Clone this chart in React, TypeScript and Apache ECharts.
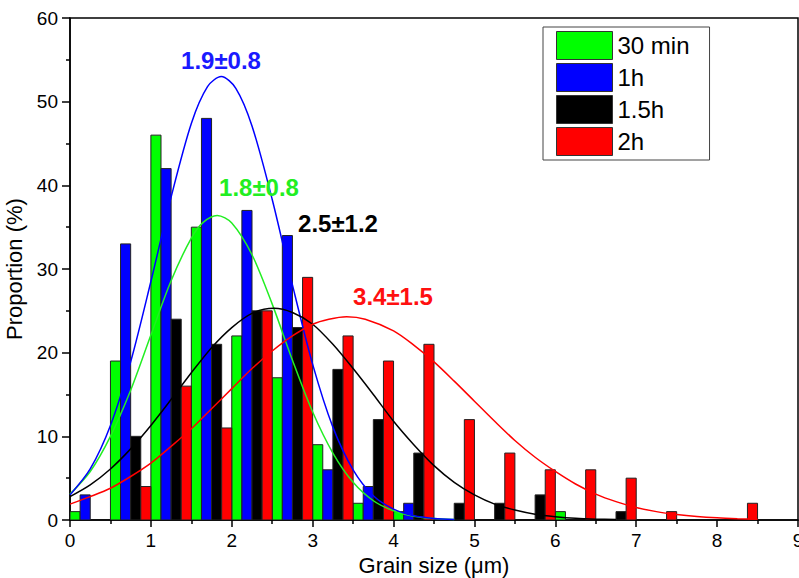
import React, { useEffect, useRef } from "react";
import * as echarts from "echarts";

// Bin starts (µm), bins are 0.5 µm wide, 4 bars per bin
const binStarts = [0, 0.5, 1, 1.5, 2, 2.5, 3, 3.5, 4, 4.5, 5, 5.5, 6, 6.5, 7, 7.5, 8, 8.5];
const seriesNames = ["30 min", "1h", "1.5h", "2h"];
const seriesColors = ["#00ff00", "#0000ff", "#000000", "#ff0000"];
const green30 = [1, 19, 46, 35, 22, 17, 9, 2, 1, 0, 0, 0, 1, 0, 0, 0, 0, 0];
const blue1h = [3, 33, 42, 48, 37, 34, 6, 4, 2, 0, 0, 0, 0, 0, 0, 0, 0, 0];
const black15h = [0, 10, 24, 21, 25, 23, 18, 12, 8, 2, 2, 3, 0, 1, 0, 0, 0, 0];
const red2h = [0, 4, 16, 11, 25, 29, 22, 19, 21, 12, 8, 6, 6, 5, 1, 0, 2, 0];

// Fitted curves
const greenFitX = [0, 0.25, 0.5, 0.75, 1, 1.25, 1.5, 1.65, 1.82, 2, 2.25, 2.5, 2.75, 3, 3.25, 3.5, 3.75, 4, 4.25, 4.5, 4.75];
const greenFit = [3.1, 5.8, 10.0, 15.5, 22.1, 28.6, 33.7, 35.6, 36.4, 35.5, 31.7, 25.8, 19.1, 12.9, 8.0, 4.5, 2.3, 1.1, 0.45, 0.17, 0.06];
const blueFitX = [0, 0.25, 0.5, 0.75, 1, 1.25, 1.5, 1.7, 1.87, 2.05, 2.25, 2.5, 2.75, 3, 3.25, 3.5, 3.75, 4, 4.25, 4.5, 4.75];
const blueFit = [3.0, 6.1, 11.3, 18.9, 28.5, 38.6, 47.4, 51.8, 53.0, 51.6, 47.1, 38.3, 28.1, 18.6, 11.1, 6.0, 2.9, 1.3, 0.5, 0.18, 0.06];
const blackFitX = [0, 0.25, 0.5, 0.75, 1, 1.25, 1.5, 1.75, 2, 2.25, 2.52, 2.75, 3, 3.25, 3.5, 3.75, 4, 4.25, 4.5, 4.75, 5, 5.25, 5.5, 5.75, 6, 6.25, 6.5, 6.75];
const blackFit = [2.8, 4.2, 6.1, 8.5, 11.3, 14.4, 17.6, 20.6, 23.0, 24.7, 25.3, 24.8, 23.4, 21.0, 18.1, 15.0, 11.8, 9.0, 6.5, 4.5, 3.0, 1.9, 1.2, 0.7, 0.4, 0.2, 0.1, 0.05];
const redFitX = [0, 0.25, 0.5, 0.75, 1, 1.25, 1.5, 1.75, 2, 2.25, 2.5, 2.75, 3, 3.2, 3.42, 3.65, 4, 4.25, 4.5, 4.75, 5, 5.25, 5.5, 5.75, 6, 6.25, 6.5, 6.75, 7, 7.25, 7.5, 7.75, 8, 8.25, 8.5];
const redFit = [1.9, 2.8, 3.8, 5.2, 6.8, 8.8, 10.9, 13.3, 15.7, 18.1, 20.2, 22.0, 23.4, 24.0, 24.3, 24.0, 22.6, 20.9, 18.9, 16.6, 14.2, 11.8, 9.5, 7.5, 5.8, 4.3, 3.1, 2.2, 1.5, 1.0, 0.66, 0.42, 0.26, 0.16, 0.09];

const fitLabels = ["1.8±0.8", "1.9±0.8", "2.5±1.2", "3.4±1.5"];
const labelColors = ["#22ee22", "#1a1aff", "#000000", "#ff1010"];

const FONT = "'Liberation Sans', Arial, sans-serif";

export default function App() {
  const ref = useRef<HTMLDivElement>(null);
  useEffect(() => {
    if (!ref.current) return;
    const chart = echarts.init(ref.current, null, { renderer: "svg" });
    const barValues = [green30, blue1h, black15h, red2h];
    const fitXs = [greenFitX, blueFitX, blackFitX, redFitX];
    const fits = [greenFit, blueFit, blackFit, redFit];
    const subW = 0.5 / 4;

    const barSeries = barValues.map((vals, i) => ({
      type: "custom",
      name: seriesNames[i],
      itemStyle: { color: seriesColors[i] },
      encode: { x: 0, y: 1 },
      clip: true,
      z: 2,
      data: vals
        .map((v, k) => [binStarts[k] + i * subW, v])
        .filter((d) => d[1] > 0),
      renderItem: (params: any, api: any) => {
        const x0 = api.value(0);
        const y = api.value(1);
        const p0 = api.coord([x0, y]);
        const p1 = api.coord([x0 + subW, 0]);
        return {
          type: "rect",
          shape: { x: p0[0], y: p0[1], width: p1[0] - p0[0], height: p1[1] - p0[1] },
          style: { fill: seriesColors[i], stroke: "#222", lineWidth: 1 },
        };
      },
    }));

    const lineSeries = fits.map((ys, i) => ({
      type: "line",
      name: seriesNames[i] + " fit",
      data: ys.map((y, k) => [fitXs[i][k], y]),
      smooth: 0.3,
      showSymbol: false,
      symbol: "none",
      z: 5,
      lineStyle: { color: i === 0 ? "#22ee22" : seriesColors[i], width: 1.5 },
    }));

    const labelPos = [
      [259, 187],
      [221, 60],
      [338, 223],
      [393, 296],
    ];

    chart.setOption({
      animation: false,
      grid: {
        left: 70,
        right: 1,
        top: 18,
        bottom: 58,
        show: true,
        borderColor: "#000",
        borderWidth: 1.5,
        outerBoundsMode: "none",
        containLabel: false,
      },
      legend: {
        data: seriesNames,
        orient: "vertical",
        left: 543,
        top: 27,
        padding: [4, 20, 4, 13],
        itemGap: 3,
        itemWidth: 56,
        itemHeight: 28,
        icon: "rect",
        borderColor: "#444",
        borderWidth: 1,
        itemStyle: { borderColor: "#333", borderWidth: 1 },
        textStyle: { fontSize: 24, color: "#000", fontFamily: FONT },
        selectedMode: false,
      },
      xAxis: {
        type: "value",
        min: 0,
        max: 9,
        interval: 1,
        name: "Grain size (μm)",
        nameLocation: "middle",
        nameGap: 31,
        nameTextStyle: { fontSize: 22, color: "#000", fontFamily: FONT },
        axisLine: { lineStyle: { color: "#000", width: 1.5 } },
        axisTick: { length: 7, lineStyle: { color: "#000", width: 1.5 } },
        minorTick: { show: true, splitNumber: 2, length: 4, lineStyle: { color: "#000", width: 1.5 } },
        splitLine: { show: false },
        axisLabel: { fontSize: 19, color: "#000", margin: 11, fontFamily: FONT },
      },
      yAxis: {
        type: "value",
        min: 0,
        max: 60,
        interval: 10,
        name: "Proportion (%)",
        nameLocation: "middle",
        nameGap: 45,
        nameTextStyle: { fontSize: 22, color: "#000", fontFamily: FONT },
        axisLine: { show: true, lineStyle: { color: "#000", width: 1.5 } },
        axisTick: { show: true, length: 8, lineStyle: { color: "#000", width: 1.5 } },
        minorTick: { show: true, splitNumber: 2, length: 4, lineStyle: { color: "#000", width: 1.5 } },
        splitLine: { show: false },
        axisLabel: { fontSize: 19, color: "#000", margin: 12, fontFamily: FONT },
      },
      graphic: fitLabels.map((t, i) => ({
        type: "text",
        x: labelPos[i][0],
        y: labelPos[i][1],
        z: 10,
        style: {
          text: t,
          fill: labelColors[i],
          font: `bold 24px ${FONT}`,
          textAlign: "center",
          textVerticalAlign: "middle",
        },
      })),
      series: [...barSeries, ...lineSeries],
    });
    return () => chart.dispose();
  }, []);
  return (
    <div
      ref={ref}
      style={{ position: "fixed", left: 0, top: 0, width: 799, height: 578, background: "#fff" }}
    />
  );
}
